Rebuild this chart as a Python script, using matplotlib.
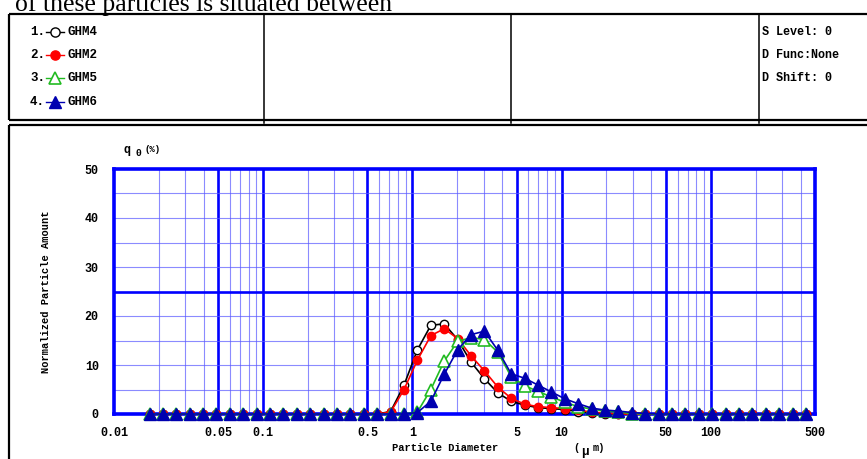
import matplotlib
matplotlib.use('Agg')
import matplotlib.pyplot as plt
from matplotlib.lines import Line2D

# ---------------- data ----------------
diameters = [0.0173, 0.02127, 0.02616, 0.03217, 0.03956, 0.04864, 0.05981, 0.07355, 0.09044, 0.1112,
             0.1368, 0.1682, 0.2068, 0.2543, 0.3127, 0.3846, 0.4729, 0.5815, 0.7151, 0.8794,
             1.081, 1.330, 1.635, 2.011, 2.473, 3.041, 3.740, 4.599, 5.655, 6.954,
             8.551, 10.52, 12.93, 15.90, 19.55, 24.04, 29.56, 36.36, 44.71, 54.98,
             67.61, 83.14, 102.2, 125.7, 154.6, 190.1, 233.8, 287.5, 353.5, 434.7]

ghm4 = [0, 0, 0, 0, 0, 0, 0, 0, 0, 0,
        0, 0, 0, 0, 0, 0, 0, 0, 0.5, 5.9,
        13.1, 18.1, 18.4, 15.2, 10.6, 7.2, 4.3, 2.6, 1.8, 1.3,
        1.1, 0.9, 0.5, 0.3, 0.1, 0, 0, 0, 0, 0,
        0, 0, 0, 0, 0, 0, 0, 0, 0, 0]
ghm2 = [0, 0, 0, 0, 0, 0, 0, 0, 0, 0,
        0, 0, 0, 0, 0, 0, 0, 0, 0.4, 5.0,
        11.0, 16.0, 17.4, 15.4, 11.9, 8.8, 5.5, 3.2, 2.0, 1.5,
        1.3, 1.1, 0.8, 0.4, 0.2, 0, 0, 0, 0, 0,
        0, 0, 0, 0, 0, 0, 0, 0, 0, 0]
ghm5 = [0, 0, 0, 0, 0, 0, 0, 0, 0, 0,
        0, 0, 0, 0, 0, 0, 0, 0, 0, 0,
        0.4, 5.0, 10.8, 14.8, 15.6, 15.2, 12.6, 7.6, 5.8, 4.6,
        3.5, 2.4, 1.5, 1.0, 0.6, 0.4, 0.1, 0, 0, 0,
        0, 0, 0, 0, 0, 0, 0, 0, 0, 0]
ghm6 = [0, 0, 0, 0, 0, 0, 0, 0, 0, 0,
        0, 0, 0, 0, 0, 0, 0, 0, 0, 0,
        0.3, 2.6, 8.1, 13.1, 16.2, 16.9, 13.0, 8.2, 7.3, 5.9,
        4.5, 3.1, 2.1, 1.2, 0.8, 0.6, 0.3, 0.1, 0, 0,
        0, 0, 0, 0, 0, 0, 0, 0, 0, 0]

series_names = ['GHM4', 'GHM2', 'GHM5', 'GHM6']
series_values = [ghm4, ghm2, ghm5, ghm6]

x_tick_values = [0.01, 0.05, 0.1, 0.5, 1, 5, 10, 50, 100, 500]
x_tick_labels = ['0.01', '0.05', '0.1', '0.5', '1', '5', '10', '50', '100', '500']
y_tick_values = [0, 10, 20, 30, 40, 50]

info_lines = ['S Level: 0', 'D Func:None', 'D Shift: 0']

# ---------------- styles ----------------
styles = [
    dict(color='black', marker='o', mfc='white', mec='black', ms=6, lw=1.2),
    dict(color='#ff0000', marker='o', mfc='#ff0000', mec='#ff0000', ms=6, lw=1.2),
    dict(color='#22bb22', marker='^', mfc='white', mec='#22bb22', ms=8, lw=1.2, mew=1.2),
    dict(color='#0000b0', marker='^', mfc='#0000b0', mec='#0000b0', ms=8, lw=1.2),
]

W, H = 867, 459
fig = plt.figure(figsize=(W / 100, H / 100), dpi=100)
MONO = 'Liberation Mono'

# overlay in pixel coords
bg = fig.add_axes([0, 0, 1, 1])
bg.set_xlim(0, W)
bg.set_ylim(H, 0)
bg.axis('off')

# top document text (partly cropped in the source image)
bg.text(15, 11, 'of these particles is situated between', family='Liberation Serif',
        fontsize=18.5, va='baseline', ha='left', color='black')

# header box
blk = dict(color='black', lw=1.6, solid_capstyle='butt')
bg.plot([9, W + 5], [14, 14], **blk)
bg.plot([9, W + 5], [120, 120], **blk)
bg.plot([9, 9], [14, 120], **blk)
for xd in [264, 511, 759]:
    bg.plot([xd, xd], [14, 123], color='black', lw=1.1)

# chart box
bg.plot([9, W + 5], [125, 125], **blk)
bg.plot([9, 9], [125, H + 5], **blk)

# legend entries
leg_y = [32, 55, 78, 102]
for i, (name, st) in enumerate(zip(series_names, styles)):
    y = leg_y[i]
    bg.text(30, y, f'{i + 1}.', family=MONO, fontweight='bold', fontsize=9, va='center', ha='left')
    bg.add_line(Line2D([46, 64], [y, y], color=st['color'], lw=1.0))
    bg.add_line(Line2D([55], [y], marker=st['marker'], mfc=st['mfc'], mec=st['mec'],
                       ms=st['ms'] * 1.1, mew=st.get('mew', 1.0), ls='none'))
    bg.text(67, y, name, family=MONO, fontweight='bold', fontsize=9, va='center', ha='left')

for y, t in zip([32, 55, 78], info_lines):
    bg.text(762, y, t, family=MONO, fontweight='bold', fontsize=8.5, va='center', ha='left')

# ---------------- chart ----------------
L, R, T, B = 114, 815, 169, 414
ax = fig.add_axes([L / W, 1 - B / H, (R - L) / W, (B - T) / H])
ax.set_xscale('log')
ax.set_xlim(0.01, 500)
ax.set_ylim(0, 50)

# grid
thin = dict(color='#5a5aff', lw=0.8, alpha=0.7, zorder=1)
thick = dict(color='#0000ff', lw=1.9, zorder=1)
for dec in [0.01, 0.1, 1, 10, 100]:
    for m in [2, 3, 4, 6, 7, 8, 9]:
        v = dec * m
        if v < 500:
            ax.axvline(v, **thin)
for v in [0.05, 0.1, 0.5, 1, 5, 10, 50, 100]:
    ax.axvline(v, **thick)
for v in [5, 10, 15, 20, 30, 35, 40, 45]:
    ax.axhline(v, **thin)
ax.axhline(25, **thick)

for vals, st in zip(series_values, styles):
    ax.plot(diameters, vals, color=st['color'], lw=st['lw'], marker=st['marker'],
            mfc=st['mfc'], mec=st['mec'], ms=st['ms'], mew=st.get('mew', 1.0),
            zorder=3, clip_on=False)

for s in ax.spines.values():
    s.set_color('#0000ff')
    s.set_linewidth(2.6)
    s.set_zorder(2)

ax.set_xticks(x_tick_values)
ax.set_xticklabels(x_tick_labels)
ax.xaxis.set_minor_locator(matplotlib.ticker.NullLocator())
ax.set_yticks(y_tick_values)
ax.tick_params(length=0)
ax.tick_params(axis='x', pad=9)
ax.tick_params(axis='y', pad=11)
for lab in ax.get_xticklabels() + ax.get_yticklabels():
    lab.set_family(MONO)
    lab.set_fontweight('bold')
    lab.set_fontsize(8.5)

# axis labels
bg.text(46, 292, 'Normalized Particle Amount', family=MONO, fontweight='bold', fontsize=7.5,
        rotation=90, va='center', ha='center')
bg.text(445, 448, 'Particle Diameter', family=MONO, fontweight='bold', fontsize=7.5,
        va='center', ha='center')
bg.text(573, 448, '(', family=MONO, fontweight='bold', fontsize=7.5, va='center', ha='left')
bg.text(581, 452, 'μ', family=MONO, fontweight='bold', fontsize=9, va='center', ha='left')
bg.text(593, 448, 'm)', family=MONO, fontweight='bold', fontsize=7.5, va='center', ha='left')
bg.text(124, 150, 'q', family=MONO, fontweight='bold', fontsize=8.5, va='center', ha='left')
bg.text(135, 153, '0', family=MONO, fontweight='bold', fontsize=7, va='center', ha='left')
bg.text(144, 149, '(%)', family=MONO, fontweight='bold', fontsize=6.5, va='center', ha='left')

fig.savefig('out.png', dpi=100)
